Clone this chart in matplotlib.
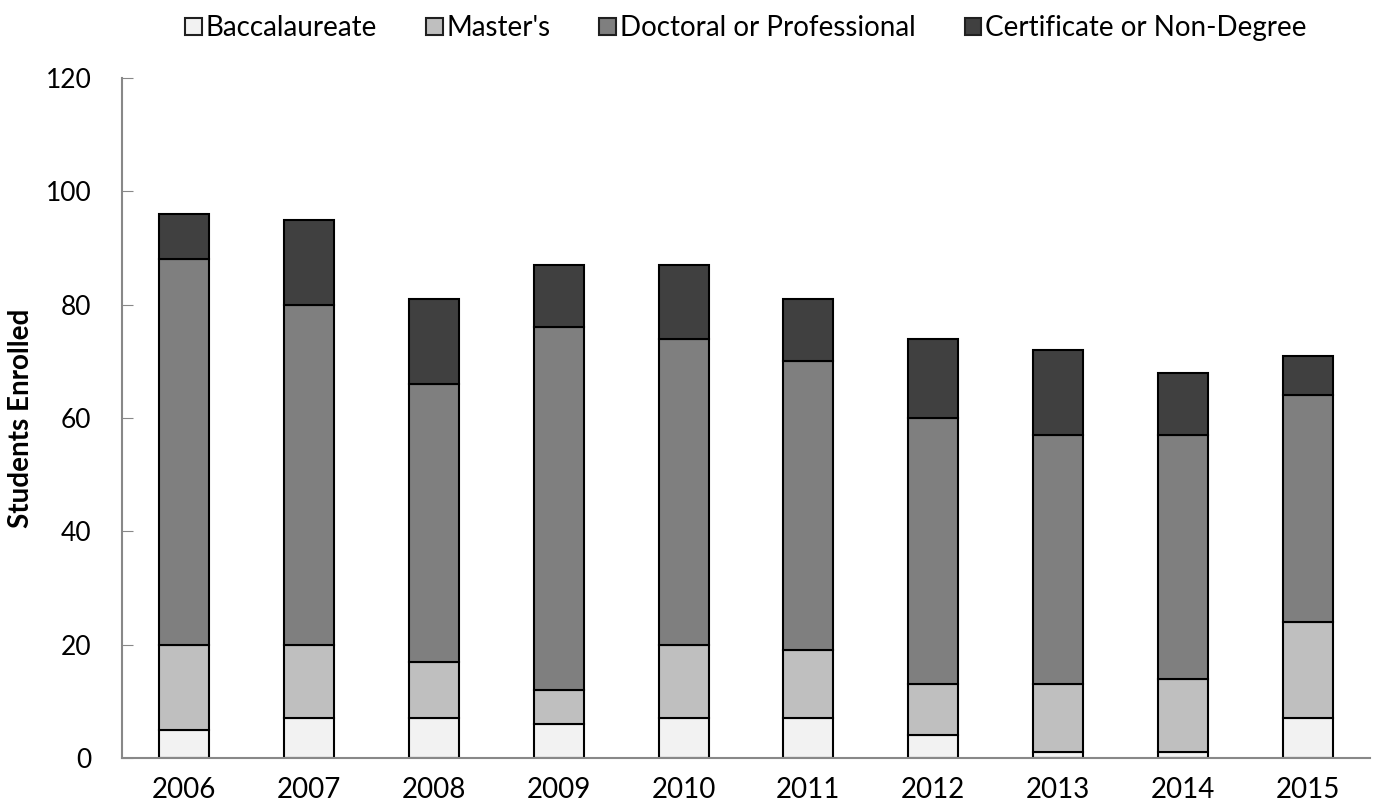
import numpy as np
from matplotlib import pyplot as plt

plt.rcParams['font.family'] = ['Lato', 'DejaVu Sans']

years = ['2006', '2007', '2008', '2009', '2010', '2011', '2012', '2013', '2014', '2015']
baccalaureate = [5, 7, 7, 6, 7, 7, 4, 1, 1, 7]
masters = [15, 13, 10, 6, 13, 12, 9, 12, 13, 17]
doctoral = [68, 60, 49, 64, 54, 51, 47, 44, 43, 40]
certificate = [8, 15, 15, 11, 13, 11, 14, 15, 11, 7]

series = [
    ("Baccalaureate", baccalaureate, '#f2f2f2'),
    ("Master's", masters, '#bfbfbf'),
    ("Doctoral or Professional", doctoral, '#7f7f7f'),
    ("Certificate or Non-Degree", certificate, '#404040'),
]

fig = plt.figure(figsize=(13.84, 8.09), dpi=100)
ax = fig.add_axes([122 / 1384, 1 - 758 / 809, (1370 - 122) / 1384, (758 - 78) / 809])

x = np.arange(len(years))
bottom = np.zeros(len(years))
for name, vals, color in series:
    ax.bar(x, vals, 0.4, bottom=bottom, color=color, edgecolor='black',
           linewidth=1.5, label=name)
    bottom += np.array(vals)

ax.set_ylim(0, 120)
ax.set_xlim(-0.5, len(years) - 0.5)
ax.set_yticks(range(0, 121, 20))
ax.set_xticks(x)
ax.set_xticklabels(years)
ax.tick_params(axis='x', length=0, labelsize=20, pad=14)
ax.tick_params(axis='y', direction='in', length=8, color='#888888', labelsize=19, pad=22)
for s in ['top', 'right']:
    ax.spines[s].set_visible(False)
for s in ['left', 'bottom']:
    ax.spines[s].set_color('#888888')
    ax.spines[s].set_linewidth(1.5)

ax.set_ylabel('Students Enrolled', fontsize=20, fontweight='bold', labelpad=8)

leg = fig.legend(loc='upper center', bbox_to_anchor=(0.539, 1.012), ncol=4, frameon=False,
                 fontsize=20, handlelength=0.6, handleheight=0.6, handletextpad=0.15,
                 columnspacing=1.75)
for h in leg.legend_handles:
    h.set_edgecolor('#202020')
    h.set_linewidth(1.5)

plt.savefig('out.png', dpi=100)
